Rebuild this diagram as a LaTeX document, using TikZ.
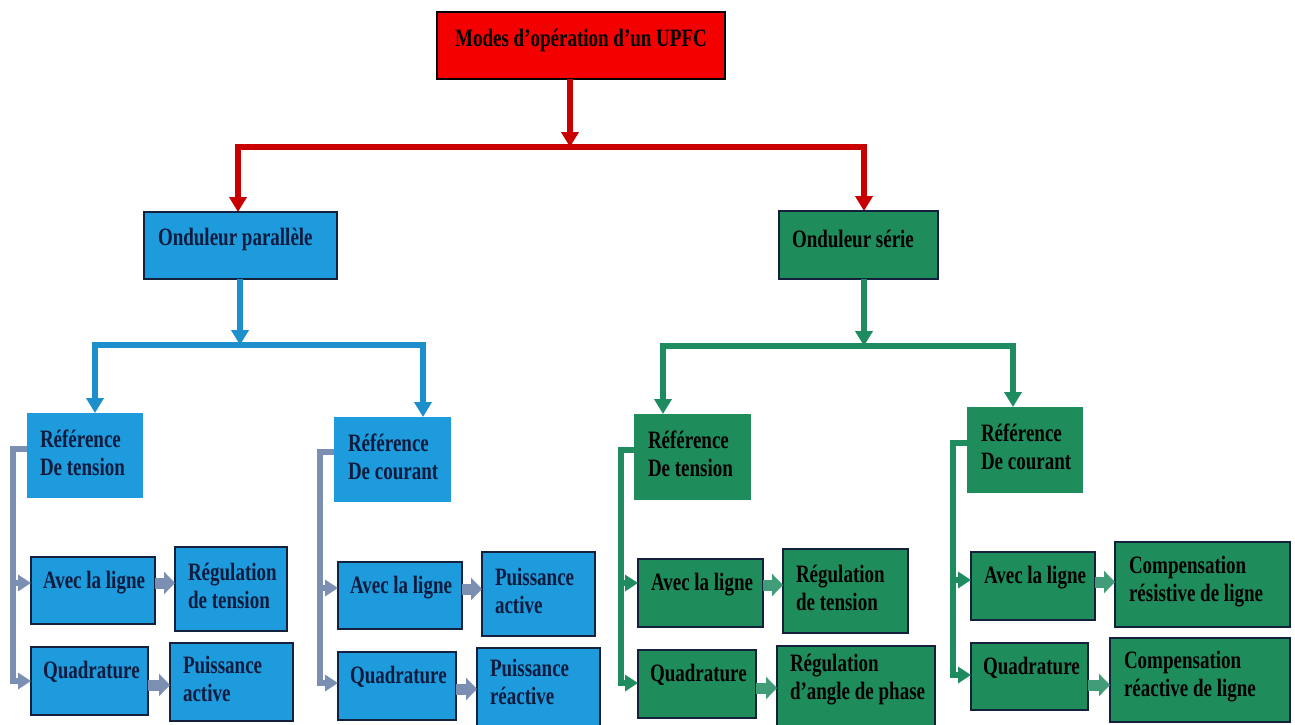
\documentclass[tikz,border=0pt]{standalone}
\usepackage{fontspec}
\setmainfont{Liberation Serif}[FakeStretch=0.76]
\usetikzlibrary{arrows.meta,calc}

\definecolor{boxred}{HTML}{F40000}
\definecolor{linered}{HTML}{C80000}
\definecolor{boxblue}{HTML}{1E9BDC}
\definecolor{lineblue}{HTML}{1D8FCB}
\definecolor{boxgreen}{HTML}{1F8C5C}
\definecolor{linegreen}{HTML}{1F8C60}
\definecolor{slate}{HTML}{7A8FB2}
\definecolor{edge}{HTML}{14213D}
\definecolor{navytext}{HTML}{0D1B3E}

\begin{document}
\begin{tikzpicture}[x=1pt, y=-1pt,
  every node/.style={inner sep=0pt, outer sep=0pt},
  panel/.style={rectangle, anchor=north west},
  redbox/.style={panel, fill=boxred, draw=black, line width=1.2pt},
  bluebox/.style={panel, fill=boxblue},
  blueframe/.style={bluebox, draw=edge, line width=1.2pt},
  greenbox/.style={panel, fill=boxgreen},
  greenframe/.style={greenbox, draw=edge, line width=1.2pt},
  lbl/.style={anchor=west, align=left, font=\fontsize{25}{28}\selectfont\bfseries},
  bluelbl/.style={lbl, text=navytext},
  greenlbl/.style={lbl, text=black},
  tip/.style={-{Triangle[width=17pt,length=15pt]}},
  bothtips/.style={{Triangle[width=17pt,length=15pt]}-{Triangle[width=17pt,length=15pt]}},
  redline/.style={draw=linered, line width=6pt},
  blueline/.style={draw=lineblue, line width=5.5pt},
  greenline/.style={draw=linegreen, line width=5.5pt},
  sidetip/.style={-{Triangle[width=16pt,length=13pt]}},
  slateline/.style={draw=slate, line width=5.5pt, sidetip},
  fatslate/.style={draw=slate, line width=11pt, -{Triangle[width=22pt,length=11pt]}},
  fatgreen/.style={draw=linegreen!85!white, line width=11pt, -{Triangle[width=22pt,length=11pt]}},
]
\useasboundingbox (0,0) rectangle (1295,724);
\clip (0,0) rectangle (1295,724);

% ---------- top level ----------
\node[redbox, minimum width=288, minimum height=67] (top) at (437,12) {};
\node[lbl, anchor=center, text=black] (topt) at ([yshift=5]top.center) {Modes d’opération d’un UPFC};

% ---------- inverters ----------
\node[blueframe, minimum width=193, minimum height=67] (op) at (144,212) {};
\node[bluelbl] (opt) at ([xshift=14, yshift=6]op.west) {Onduleur parallèle};
\node[greenframe, minimum width=159, minimum height=68] (os) at (779,211) {};
\node[greenlbl] (ost) at ([xshift=13, yshift=6]os.west) {Onduleur série};

% ---------- references ----------
\node[bluebox, minimum width=116, minimum height=85] (rtb) at (27,413) {};
\node[bluelbl] (rtbt) at ([xshift=13, yshift=3]rtb.west) {Référence\\De tension};
\node[bluebox, minimum width=117, minimum height=85] (rcb) at (334,417) {};
\node[bluelbl] (rcbt) at ([xshift=14, yshift=3]rcb.west) {Référence\\De courant};
\node[greenbox, minimum width=117, minimum height=86] (rtg) at (634,414) {};
\node[greenlbl] (rtgt) at ([xshift=14, yshift=3]rtg.west) {Référence\\De tension};
\node[greenbox, minimum width=116, minimum height=86] (rcg) at (967,407) {};
\node[greenlbl] (rcgt) at ([xshift=14, yshift=3]rcg.west) {Référence\\De courant};

% ---------- modes, parallel inverter ----------
\node[blueframe, minimum width=124, minimum height=67] (a1) at (31,557) {};
\node[bluelbl] (a1t) at ([xshift=12, yshift=8]a1.west) {Avec la ligne};
\node[blueframe, minimum width=112, minimum height=84] (r1) at (175,547) {};
\node[bluelbl] (r1t) at ([xshift=13, yshift=3]r1.west) {Régulation\\de tension};
\node[blueframe, minimum width=117, minimum height=68] (q1) at (31,647) {};
\node[bluelbl] (q1t) at ([xshift=12, yshift=9]q1.west) {Quadrature};
\node[blueframe, minimum width=123, minimum height=78] (p1) at (170,643) {};
\node[bluelbl] (p1t) at ([xshift=13, yshift=3]p1.west) {Puissance\\active};

\node[blueframe, minimum width=124, minimum height=67] (a2) at (338,562) {};
\node[bluelbl] (a2t) at ([xshift=12, yshift=8]a2.west) {Avec la ligne};
\node[blueframe, minimum width=113, minimum height=84] (r2) at (482,552) {};
\node[bluelbl] (r2t) at ([xshift=13, yshift=3]r2.west) {Puissance\\active};
\node[blueframe, minimum width=118, minimum height=68] (q2) at (338,652) {};
\node[bluelbl] (q2t) at ([xshift=12, yshift=9]q2.west) {Quadrature};
\node[blueframe, minimum width=123, minimum height=80] (p2) at (477,648) {};
\node[bluelbl] (p2t) at ([xshift=13, yshift=6]p2.west) {Puissance\\réactive};

% ---------- modes, series inverter ----------
\node[greenframe, minimum width=125, minimum height=68] (a3) at (638,559) {};
\node[greenlbl] (a3t) at ([xshift=13, yshift=8]a3.west) {Avec la ligne};
\node[greenframe, minimum width=125, minimum height=84] (r3) at (783,549) {};
\node[greenlbl] (r3t) at ([xshift=13, yshift=3]r3.west) {Régulation\\de tension};
\node[greenframe, minimum width=118, minimum height=68] (q3) at (638,650) {};
\node[greenlbl] (q3t) at ([xshift=12, yshift=9]q3.west) {Quadrature};
\node[greenframe, minimum width=158, minimum height=80] (p3) at (777,646) {};
\node[greenlbl] (p3t) at ([xshift=13, yshift=6]p3.west) {Régulation\\d’angle de phase};

\node[greenframe, minimum width=124, minimum height=68] (a4) at (971,552) {};
\node[greenlbl] (a4t) at ([xshift=13, yshift=8]a4.west) {Avec la ligne};
\node[greenframe, minimum width=175, minimum height=85] (r4) at (1115,542) {};
\node[greenlbl] (r4t) at ([xshift=14, yshift=3]r4.west) {Compensation\\résistive de ligne};
\node[greenframe, minimum width=117, minimum height=67] (q4) at (971,643) {};
\node[greenlbl] (q4t) at ([xshift=12, yshift=9]q4.west) {Quadrature};
\node[greenframe, minimum width=180, minimum height=84] (p4) at (1110,638) {};
\node[greenlbl] (p4t) at ([xshift=14, yshift=3]p4.west) {Compensation\\réactive de ligne};

% ---------- junction points ----------
\coordinate (rj) at (570,147);
\coordinate (bj) at (240,345);
\coordinate (gj) at (864,346);
\coordinate (bx1) at (95,0);
\coordinate (bx2) at (423,0);
\coordinate (gx1) at (663,0);
\coordinate (gx2) at (1013,0);

% ---------- red tree ----------
\draw[redline, tip] (top.south -| rj) -- (rj);
\draw[redline, bothtips] (op.north -| 238,0) |- (rj) -| (os.north -| 864,0);

% ---------- blue tree ----------
\draw[blueline, tip] (op.south -| bj) -- (bj);
\draw[blueline, bothtips] (rtb.north -| bx1) |- (bj) -| (rcb.north -| bx2);

% ---------- green tree ----------
\draw[greenline, tip] (os.south -| gj) -- (gj);
\draw[greenline, bothtips] (rtg.north -| gx1) |- (gj) -| (rcg.north -| gx2);

% ---------- reference branches ----------
\coordinate (s1) at (13,583);
\draw[slateline] (rtb.west |- 0,449) -| (s1) |- (q1.west);
\draw[slateline] (s1) -- (a1.west |- s1);
\coordinate (s2) at (320,588);
\draw[slateline] (rcb.west |- 0,452) -| (s2) |- (q2.west |- 0,683);
\draw[slateline] (s2) -- (a2.west |- s2);
\coordinate (s3) at (621,583);
\draw[greenline, sidetip] (rtg.west |- 0,450) -| (s3) |- (q3.west |- 0,683);
\draw[greenline, sidetip] (s3) -- (a3.west |- s3);
\coordinate (s4) at (953,580);
\draw[greenline, sidetip] (rcg.west |- 0,443) -| (s4) |- (q4.west |- 0,675);
\draw[greenline, sidetip] (s4) -- (a4.west |- s4);

% ---------- mode to result arrows ----------
\draw[fatslate] (a1.east |- 0,583) -- (r1.west |- 0,583);
\draw[fatslate] (q1.east |- 0,685) -- (p1.west |- 0,685);
\draw[fatslate] (a2.east |- 0,589) -- (r2.west |- 0,589);
\draw[fatslate] (q2.east |- 0,689) -- (p2.west |- 0,689);
\draw[fatgreen] (a3.east |- 0,585) -- (r3.west |- 0,585);
\draw[fatgreen] (q3.east |- 0,688) -- (p3.west |- 0,688);
\draw[fatgreen] (a4.east |- 0,582) -- (r4.west |- 0,582);
\draw[fatgreen] (q4.east |- 0,685) -- (p4.west |- 0,685);
\end{tikzpicture}
\end{document}
